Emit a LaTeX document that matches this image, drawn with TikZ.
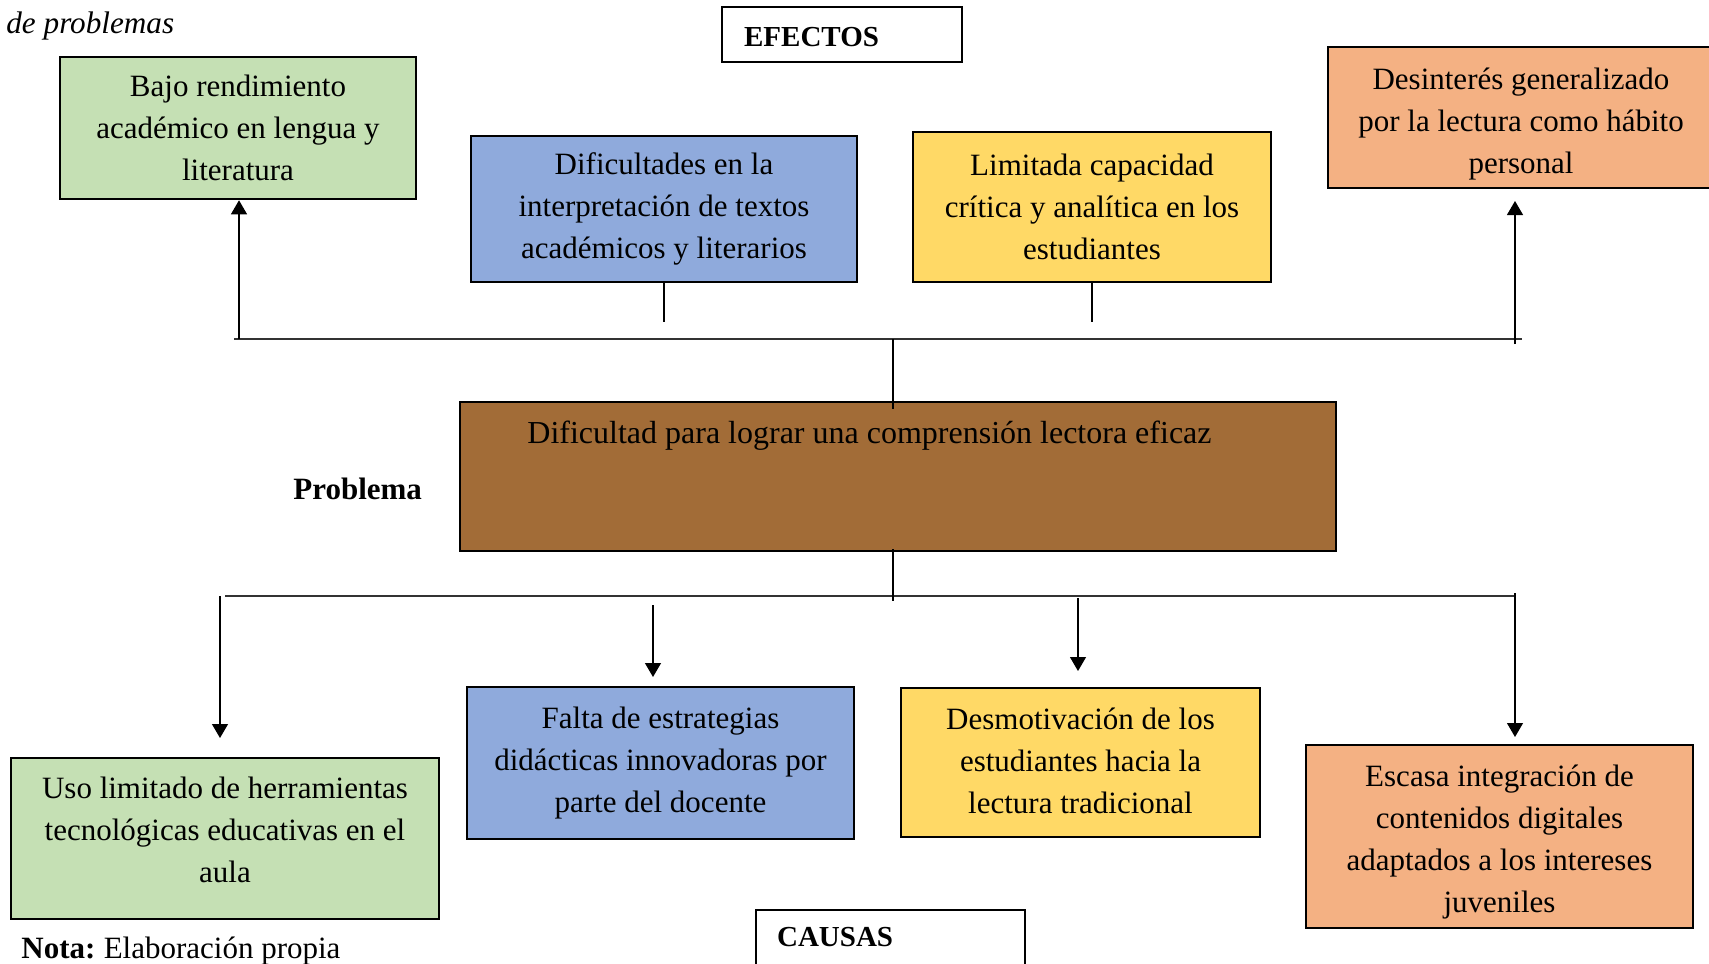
\documentclass[tikz,border=0pt]{standalone}
\usepackage{fontspec}
\setmainfont{Liberation Serif}
\usetikzlibrary{arrows.meta}
\definecolor{cgreen}{HTML}{C5E0B4}
\definecolor{cblue}{HTML}{8FAADC}
\definecolor{cyellow}{HTML}{FFD966}
\definecolor{corange}{HTML}{F4B183}
\definecolor{cbrown}{HTML}{A26C37}
\tikzset{
  box/.style={draw=black, line width=1.3pt, inner sep=0pt, align=center,
    font=\fontsize{15.5}{21}\selectfont},
  boxtext/.style={inner sep=0pt, align=center, font=\fontsize{15.5}{21}\selectfont},
  conn/.style={draw=black, line width=0.6pt},
  bar/.style={draw=black!80, line width=0.9pt},
  arr/.style={-{Triangle[length=7pt,width=8pt]}},
  lbl/.style={inner sep=0pt, font=\fontsize{15.5}{21}\selectfont},
}
\begin{document}
\begin{tikzpicture}[x=0.5pt,y=-0.5pt]
\useasboundingbox[fill=white] (0,0) rectangle (1709,964);

% title fragment
\node[lbl, anchor=base west, font=\fontsize{15.6}{21}\selectfont\itshape] (title) at (6,33) {de problemas};

% EFECTOS label box
\node[box, line width=1.1pt, anchor=north west, minimum width=120pt, text width=98pt, inner xsep=11pt,
  align=left, text height=19.5pt, text depth=8pt, inner ysep=0pt,
  font=\fontsize{14.5}{18}\selectfont\bfseries] (efectos) at (721,6) {EFECTOS};

% effects
\node[box, fill=cgreen, minimum width=178pt, minimum height=71pt] (green1) at (238,128)
  {Bajo rendimiento\\acad\'emico en lengua y\\literatura};
\node[box, fill=cblue, minimum width=193pt, minimum height=73pt] (blue1) at (664,209)
  {Dificultades en la\\interpretaci\'on de textos\\acad\'emicos y literarios};
\node[box, fill=cyellow, minimum width=179pt, minimum height=75pt] (yellow1) at (1092,207)
  {Limitada capacidad\\cr\'itica y anal\'itica en los\\estudiantes};
\node[box, fill=corange, minimum width=193pt, minimum height=70.5pt] (orange1) at (1521,117.5) {};
\node[boxtext] (orange1txt) at (1521,124.5)
  {Desinter\'es generalizado\\por la lectura como h\'abito\\personal};

% problem
\node[box, fill=cbrown, minimum width=438pt, minimum height=74.5pt] (prob) at (898,476.5) {};
\node[lbl, anchor=base west, font=\fontsize{16}{21}\selectfont] (probtxt) at (527,443)
  {Dificultad para lograr una comprensi\'on lectora eficaz};
\node[lbl, anchor=base west, font=\fontsize{15.5}{21}\selectfont\bfseries] (problema) at (293,499) {Problema};

% causes
\node[box, fill=cgreen, minimum width=214pt, minimum height=80.5pt] (green2) at (225,838.5) {};
\node[boxtext] (green2txt) at (225,830)
  {Uso limitado de herramientas\\tecnol\'ogicas educativas en el\\aula};
\node[box, fill=cblue, minimum width=193.5pt, minimum height=76pt] (blue2) at (660.5,763)
  {Falta de estrategias\\did\'acticas innovadoras por\\parte del docente};
\node[box, fill=cyellow, minimum width=179.5pt, minimum height=74.5pt] (yellow2) at (1080.5,762.5) {};
\node[boxtext] (yellow2txt) at (1080.5,760.5)
  {Desmotivaci\'on de los\\estudiantes hacia la\\lectura tradicional};
\node[box, fill=corange, minimum width=193.5pt, minimum height=91.5pt] (orange2) at (1499.5,836.5) {};
\node[boxtext] (orange2txt) at (1499.5,842.5)
  {Escasa integraci\'on de\\contenidos digitales\\adaptados a los intereses\\juveniles};

% CAUSAS label box
\node[box, line width=1.1pt, anchor=north west, minimum width=134.5pt, text width=113.5pt, inner xsep=10.5pt,
  align=left, text height=18pt, text depth=15pt, inner ysep=0pt,
  font=\fontsize{14.5}{18}\selectfont\bfseries] (causas) at (755,909) {CAUSAS};

% note
\node[lbl, anchor=base west] (nota) at (21,958) {\textbf{Nota:}\hspace{-1pt} Elaboraci\'on propia};

% effect connectors
\coordinate (eb1) at (234,339);
\coordinate (eb2) at (1522,339);
\coordinate (ec) at (893,339);
\coordinate (pt) at (893,409);
\coordinate (el) at (239,339);
\coordinate (b1e) at (664,322);
\coordinate (y1e) at (1092,322);
\coordinate (er) at (1515,344);
\coordinate (ert) at (1515,201);
\draw[bar] (eb1) -- (eb2);
\draw[conn] (ec) -- (pt);
\draw[conn, arr] (el) -- (el |- green1.south);
\draw[conn] (blue1.south) -- (b1e);
\draw[conn] (yellow1.south) -- (y1e);
\draw[conn, arr] (er) -- (ert);

% cause connectors
\coordinate (cb1) at (225,596);
\coordinate (cb2) at (1515,596);
\coordinate (pb) at (893,549);
\coordinate (cc) at (893,601);
\coordinate (cl) at (220,596);
\coordinate (clt) at (220,738);
\coordinate (c2s) at (653,605);
\coordinate (c2t) at (653,677);
\coordinate (c3s) at (1078,598);
\coordinate (c3t) at (1078,671);
\coordinate (c4s) at (1515,593);
\coordinate (c4t) at (1515,737);
\draw[bar] (cb1) -- (cb2);
\draw[conn] (pb) -- (cc);
\draw[conn, arr] (cl) -- (clt);
\draw[conn, arr] (c2s) -- (c2t);
\draw[conn, arr] (c3s) -- (c3t);
\draw[conn, arr] (c4s) -- (c4t);
\end{tikzpicture}
\end{document}
